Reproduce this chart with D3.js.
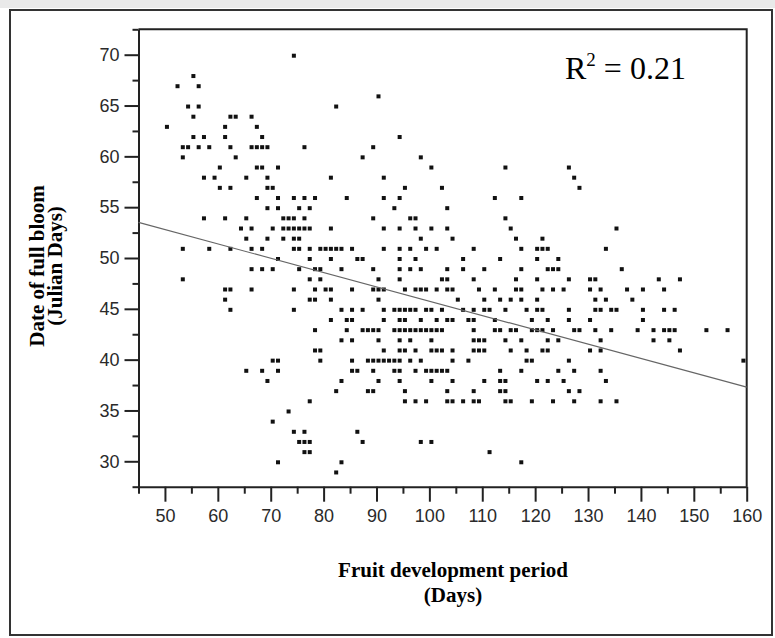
<!DOCTYPE html>
<html>
<head>
<meta charset="utf-8">
<script src="https://cdn.jsdelivr.net/npm/d3@7"></script>
<style>
  body { margin: 0; background: #fff; }
  svg { display: block; }
</style>
</head>
<body>
<svg id="chart" width="775" height="638"></svg>
<script>
// Axis ticks
const xTicks = [50, 60, 70, 80, 90, 100, 110, 120, 130, 140, 150, 160];
const yTicks = [30, 35, 40, 45, 50, 55, 60, 65, 70];

// Date of full bloom (Julian day) for each row of observations
const bloomDates = [70, 68, 67, 66, 65, 64, 63, 62, 61, 60, 59, 58, 57, 56, 55, 54, 53, 52, 51, 50,
  49, 48, 47, 46, 45, 44, 43, 42, 41, 40, 39, 38, 37, 36, 35, 34, 33, 32, 31, 30, 29];

// Fruit development periods (days) observed with each bloom date above
const fruitPeriods = [
  [74],
  [55],
  [52, 56],
  [90],
  [54, 56, 82],
  [55, 62, 63, 66],
  [50, 61, 67],
  [55, 57, 61, 68, 94],
  [53, 54, 56, 58, 62, 66, 67, 68, 69, 76, 89],
  [53, 63, 87, 98],
  [60, 67, 68, 71, 100, 114, 126],
  [57, 59, 65, 69, 81, 91, 127],
  [60, 62, 69, 70, 95, 102, 128],
  [67, 71, 74, 76, 78, 84, 91, 94, 112, 117],
  [69, 71, 75, 77, 93, 103],
  [57, 61, 65, 72, 73, 74, 76, 89, 96, 97, 114],
  [64, 66, 70, 72, 73, 74, 75, 76, 77, 81, 91, 94, 97, 100, 103, 115, 135],
  [65, 69, 72, 74, 75, 98, 104, 116, 121],
  [53, 58, 62, 66, 68, 74, 75, 77, 79, 80, 81, 82, 83, 85, 91, 94, 96, 99, 101, 108, 117, 120, 121, 122, 133],
  [71, 77, 81, 86, 87, 94, 97, 106, 113, 120, 124],
  [66, 68, 70, 75, 78, 79, 83, 89, 94, 96, 98, 103, 106, 110, 117, 122, 123, 124, 136],
  [53, 77, 79, 90, 94, 102, 103, 108, 116, 120, 126, 130, 131, 143, 147],
  [61, 62, 66, 74, 78, 80, 81, 85, 89, 90, 91, 95, 97, 98, 99, 101, 103, 104, 109, 112, 116, 117, 121, 123, 125, 130, 132, 137, 140, 144],
  [61, 77, 78, 81, 90, 105, 110, 113, 115, 117, 120, 131, 133, 138],
  [62, 74, 83, 85, 87, 91, 93, 94, 95, 96, 97, 99, 100, 102, 106, 108, 110, 111, 114, 118, 120, 121, 126, 131, 132, 134, 135, 140, 144, 146],
  [81, 84, 85, 91, 94, 95, 98, 101, 103, 104, 107, 108, 112, 119, 122, 126, 130, 140],
  [78, 84, 87, 88, 89, 90, 93, 94, 95, 96, 97, 98, 99, 100, 101, 102, 108, 112, 113, 115, 116, 119, 120, 121, 123, 127, 128, 131, 134, 139, 142, 144, 145, 146, 152, 156],
  [83, 85, 90, 94, 96, 100, 108, 109, 110, 114, 117, 122, 124, 132, 142, 145],
  [78, 79, 91, 94, 95, 97, 100, 101, 102, 104, 108, 109, 110, 115, 118, 121, 122, 130, 132, 147],
  [70, 71, 79, 85, 88, 89, 90, 91, 92, 93, 94, 96, 98, 104, 107, 118, 119, 126, 159],
  [65, 68, 71, 85, 86, 89, 93, 94, 97, 99, 100, 101, 102, 103, 113, 117, 124, 127, 132],
  [69, 83, 90, 94, 100, 104, 110, 113, 114, 120, 122, 125, 133],
  [82, 88, 89, 95, 103, 108, 113, 114, 126, 128],
  [77, 95, 97, 99, 103, 104, 106, 108, 109, 114, 115, 119, 123, 127, 132, 135],
  [73],
  [70],
  [74, 76, 86],
  [75, 76, 77, 87, 98, 100],
  [76, 77, 111],
  [71, 83, 117],
  [82]
];

// Least-squares line: bloom = intercept + slope * period
const fitIntercept = 59.84;
const fitSlope = -0.1409;
const rSquared = "0.21";

const svg = d3.select("#chart");

// Window strip and outer frame
svg.append("rect").attr("x", 0).attr("y", 0).attr("width", 775).attr("height", 8).attr("fill", "#e9e9e9");
svg.append("rect").attr("x", 10).attr("y", 10).attr("width", 762).attr("height", 625)
  .attr("fill", "none").attr("stroke", "#333").attr("stroke-width", 2);

const x = d3.scaleLinear().domain([45, 160]).range([138.5, 746.7]);
const y = d3.scaleLinear().domain([27.5, 72.5]).range([486.7, 29.3]);

const plot = svg.append("g");

// Top and right borders of the plot box
plot.append("path")
  .attr("d", `M${x(45)},${y(72.5)}H${x(160)}V${y(27.5)}`)
  .attr("fill", "none").attr("stroke", "#222").attr("stroke-width", 2);

const tickFont = "'Liberation Sans', Arial, sans-serif";

// Minor ticks every 2.5 / 5 units
const yMinor = d3.range(27.5, 72.6, 2.5).filter(v => v % 5 !== 0);
const xMinor = d3.range(45, 160, 10);

plot.append("g").attr("transform", `translate(${x(45)},0)`)
  .call(d3.axisLeft(y).tickValues(yMinor).tickSize(6).tickFormat(""))
  .call(g => g.select(".domain").remove());
plot.append("g").attr("transform", `translate(0,${y(27.5)})`)
  .call(d3.axisBottom(x).tickValues(xMinor).tickSize(7).tickFormat(""))
  .call(g => g.select(".domain").remove());

const yAxis = plot.append("g").attr("transform", `translate(${x(45)},0)`)
  .call(d3.axisLeft(y).tickValues(yTicks).tickSize(14).tickPadding(5).tickSizeOuter(0));
const xAxis = plot.append("g").attr("transform", `translate(0,${y(27.5)})`)
  .call(d3.axisBottom(x).tickValues(xTicks).tickSize(15).tickPadding(8).tickSizeOuter(0));

plot.selectAll(".tick line").attr("stroke", "#222").attr("stroke-width", 2);
plot.selectAll(".domain").attr("stroke", "#222").attr("stroke-width", 2);
plot.selectAll(".tick text")
  .attr("font-family", tickFont).attr("font-size", 18).attr("fill", "#2a2a2a");

// Observations
const points = bloomDates.flatMap((b, i) => fruitPeriods[i].map(f => ({ f, b })));
plot.append("g").selectAll("rect").data(points).join("rect")
  .attr("x", d => x(d.f))
  .attr("y", d => y(d.b) - 1)
  .attr("width", 4).attr("height", 4)
  .attr("fill", "#111");

// Regression line across the full period range
plot.append("line")
  .attr("x1", x(45)).attr("y1", y(fitIntercept + fitSlope * 45))
  .attr("x2", x(160)).attr("y2", y(fitIntercept + fitSlope * 160))
  .attr("stroke", "#666").attr("stroke-width", 1.2);

// R-squared annotation
const serif = "'Liberation Serif', 'Times New Roman', serif";
const r2 = svg.append("text").attr("x", 565).attr("y", 79)
  .attr("font-family", serif).attr("font-size", 32).attr("fill", "#000");
r2.append("tspan").text("R");
r2.append("tspan").attr("font-size", 19).attr("dy", -13).text("2");
r2.append("tspan").attr("dy", 13).text(" = " + rSquared);

// Axis titles
svg.append("text").attr("x", 453).attr("y", 577).attr("text-anchor", "middle")
  .attr("font-family", serif).attr("font-weight", "bold").attr("font-size", 21)
  .text("Fruit development period");
svg.append("text").attr("x", 453).attr("y", 602).attr("text-anchor", "middle")
  .attr("font-family", serif).attr("font-weight", "bold").attr("font-size", 21)
  .text("(Days)");

const yTitle = svg.append("g").attr("transform", "translate(0,266) rotate(-90)");
yTitle.append("text").attr("x", 0).attr("y", 44).attr("text-anchor", "middle")
  .attr("font-family", serif).attr("font-weight", "bold").attr("font-size", 21)
  .text("Date of full bloom");
yTitle.append("text").attr("x", 0).attr("y", 62).attr("text-anchor", "middle")
  .attr("font-family", serif).attr("font-weight", "bold").attr("font-size", 21)
  .text("(Julian Days)");
</script>
</body>
</html>
